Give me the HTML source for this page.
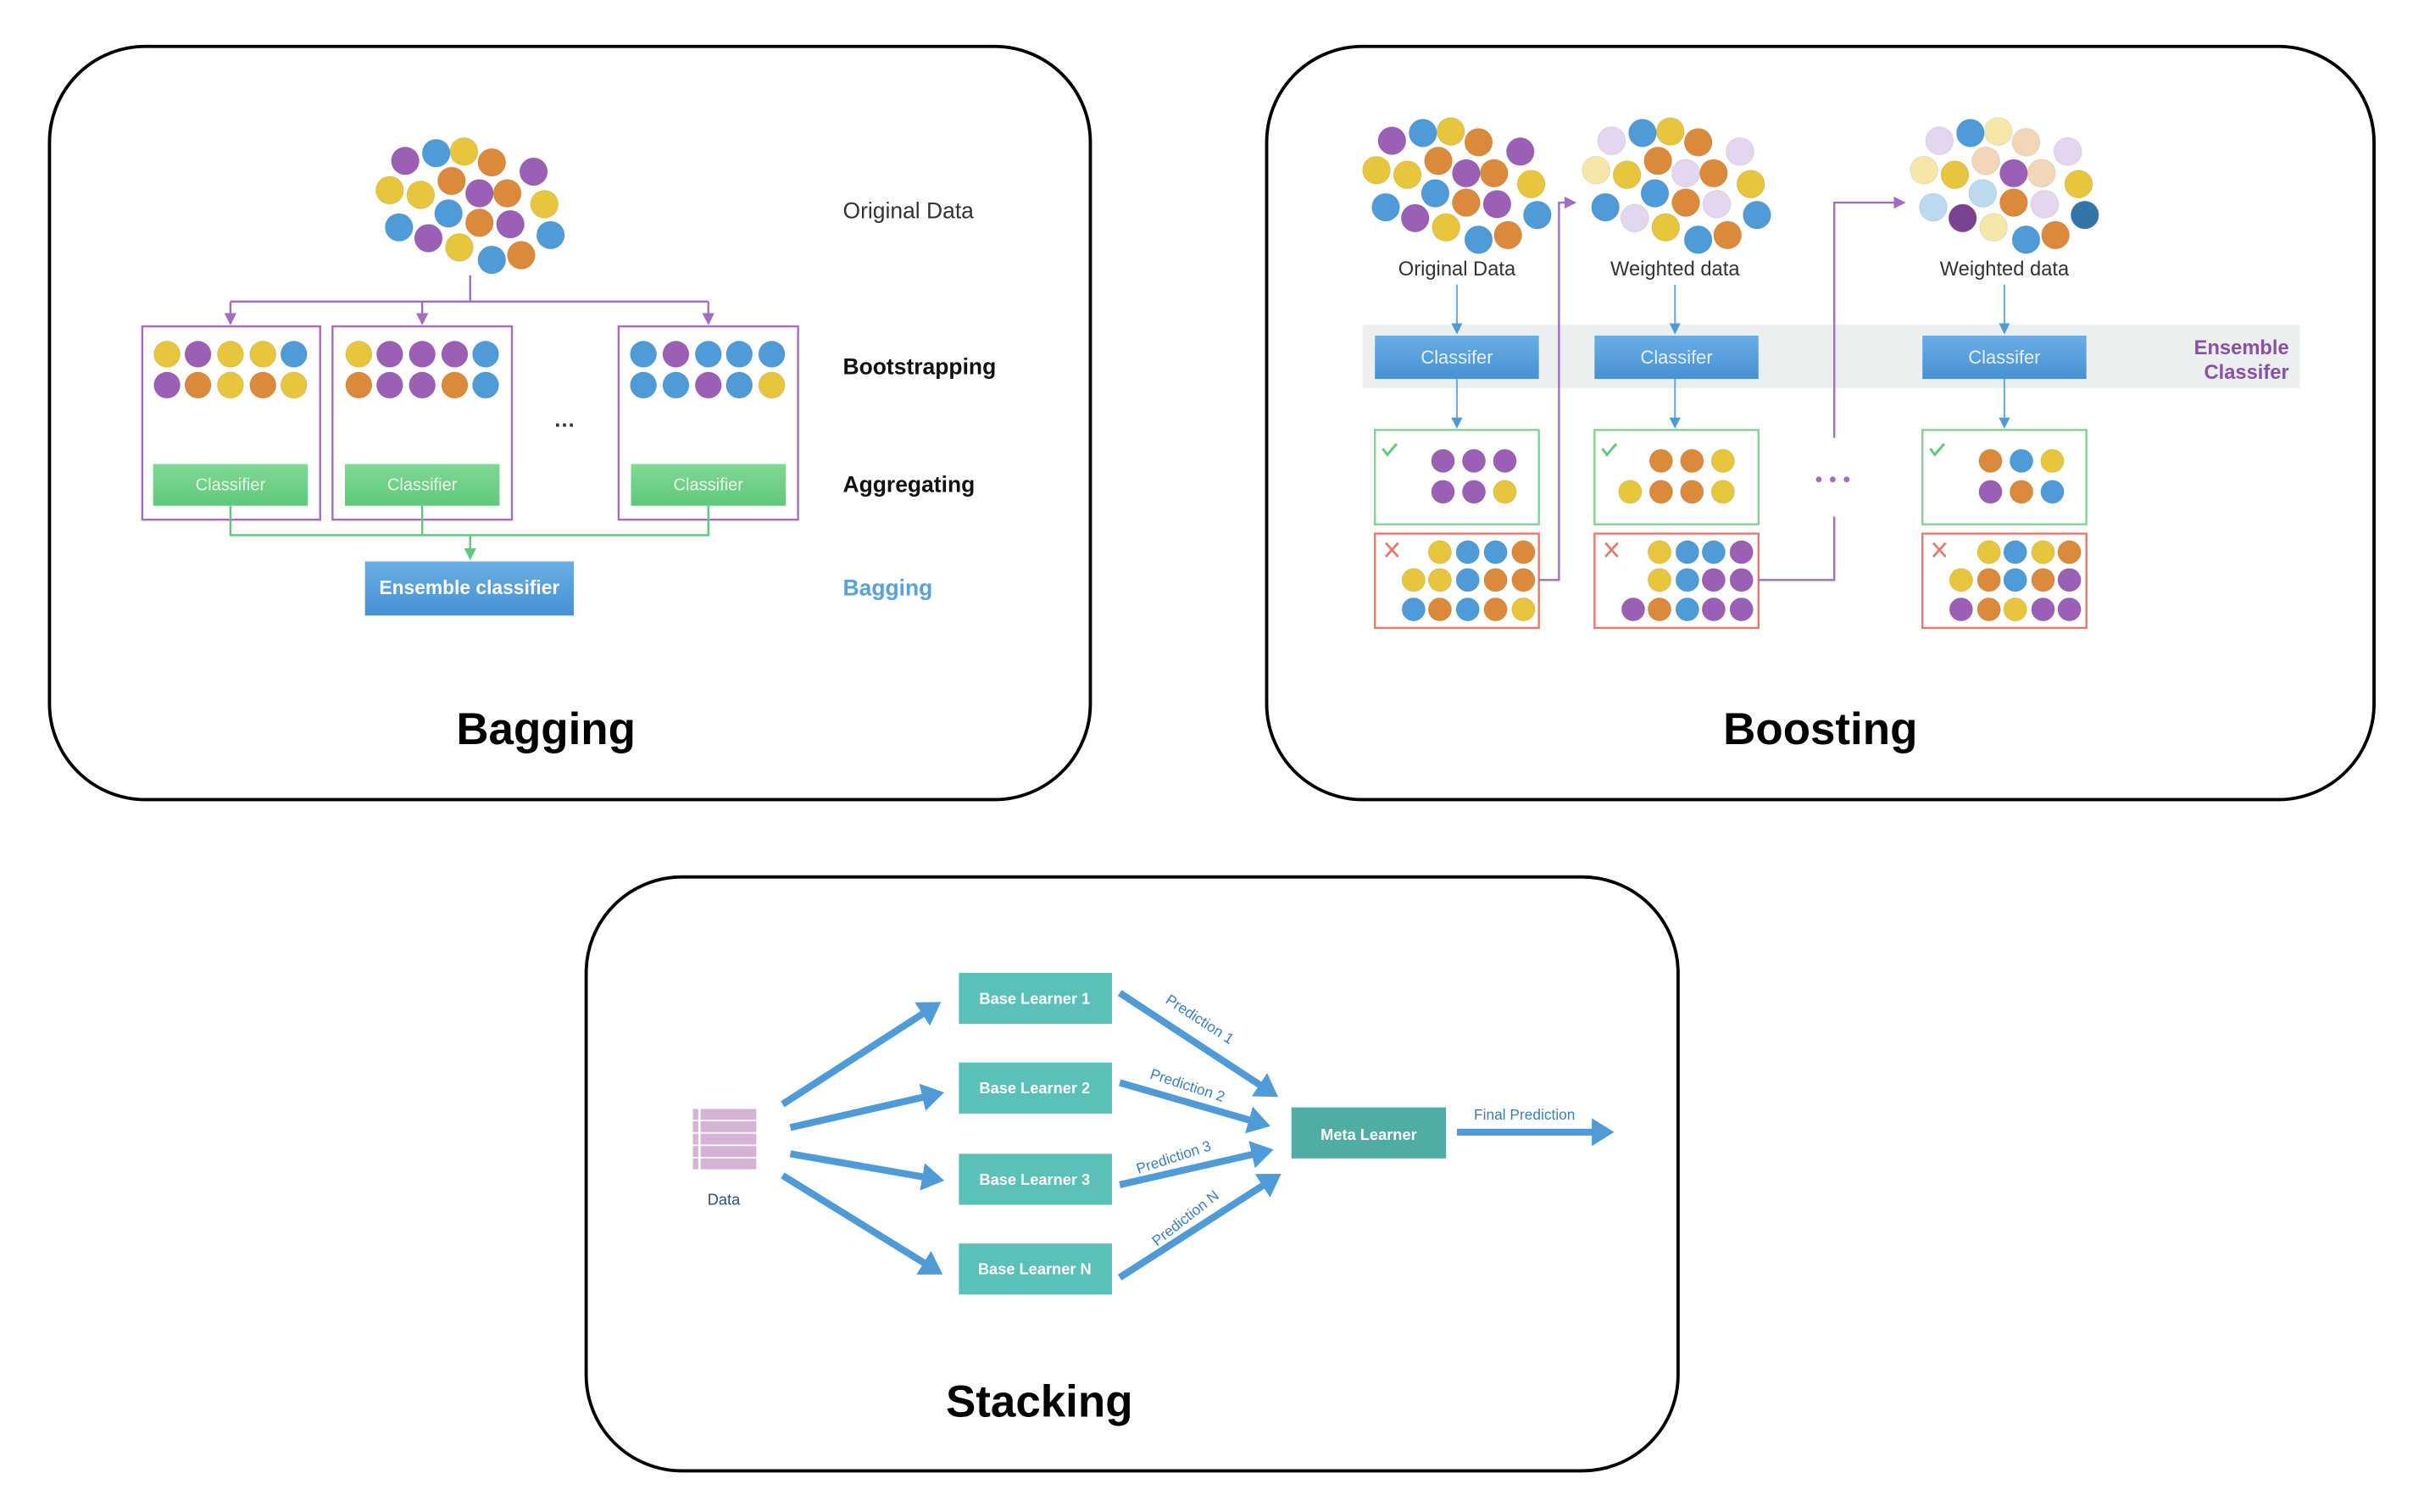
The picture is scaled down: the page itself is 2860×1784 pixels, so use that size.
<!DOCTYPE html>
<html><head><meta charset="utf-8"><style>
html,body{margin:0;padding:0;background:#fff}
svg{display:block}
text{font-family:"Liberation Sans",sans-serif}
.p{fill:#9b5fb5}.b{fill:#4e9bd7}.y{fill:#e7c53c}.o{fill:#da8a3a}
.lp{fill:#e4d6ee}.ly{fill:#f5e7a8}.lo{fill:#f3d6b8}.lb{fill:#bcd9f0}.dp{fill:#7a4391}.db{fill:#3574a8}
circle{stroke:rgba(0,0,0,0.08);stroke-width:0.6}
</style></head><body>
<svg width="2860" height="1784" viewBox="0 0 1567.3 977.6" preserveAspectRatio="none" xmlns="http://www.w3.org/2000/svg">
<defs>
<linearGradient id="gb" x1="0" y1="0" x2="0" y2="1"><stop offset="0" stop-color="#6aaee4"/><stop offset="1" stop-color="#4690d4"/></linearGradient>
<linearGradient id="gg" x1="0" y1="0" x2="0" y2="1"><stop offset="0" stop-color="#80d896"/><stop offset="1" stop-color="#5fc97a"/></linearGradient>
<marker id="ap" markerWidth="6" markerHeight="6" refX="5" refY="3" orient="auto"><path d="M0,0 L6,3 L0,6z" fill="#a46bc4"/></marker>
<marker id="ab" markerWidth="6" markerHeight="6" refX="5" refY="3" orient="auto"><path d="M0,0 L6,3 L0,6z" fill="#4e9bd7"/></marker>
<marker id="ag" markerWidth="6" markerHeight="6" refX="5" refY="3" orient="auto"><path d="M0,0 L6,3 L0,6z" fill="#5fc97a"/></marker>
<marker id="bs" markerWidth="4" markerHeight="4" refX="1.5" refY="2" orient="auto" markerUnits="strokeWidth"><path d="M0,0 L3.2,2 L0,4z" fill="#4e9bd7"/></marker>
</defs>

<!-- panels -->
<rect x="32" y="30" width="673" height="487" rx="62" fill="none" stroke="#000" stroke-width="2.1"/>
<rect x="819" y="30" width="716" height="487" rx="62" fill="none" stroke="#000" stroke-width="2.1"/>
<rect x="379" y="567" width="706" height="384" rx="62" fill="none" stroke="#000" stroke-width="2.1"/>

<!-- BAGGING -->
<g>
<circle cx="262" cy="104" r="9" class="p"/><circle cx="282" cy="99" r="9" class="b"/><circle cx="300" cy="98" r="9" class="y"/><circle cx="318" cy="105" r="9" class="o"/><circle cx="345" cy="111" r="9" class="p"/>
<circle cx="252" cy="123" r="9" class="y"/><circle cx="272" cy="126" r="9" class="y"/><circle cx="292" cy="117" r="9" class="o"/><circle cx="310" cy="125" r="9" class="p"/><circle cx="328" cy="125" r="9" class="o"/><circle cx="352" cy="132" r="9" class="y"/>
<circle cx="290" cy="138" r="9" class="b"/><circle cx="310" cy="144" r="9" class="o"/><circle cx="330" cy="145" r="9" class="p"/><circle cx="258" cy="147" r="9" class="b"/><circle cx="277" cy="154" r="9" class="p"/><circle cx="297" cy="160" r="9" class="y"/><circle cx="318" cy="168" r="9" class="b"/><circle cx="337" cy="165" r="9" class="o"/><circle cx="356" cy="152" r="9" class="b"/>
</g>
<g fill="none" stroke="#a46bc4" stroke-width="1.3">
<path d="M304 178 V195 M149 195 H458"/>
<path d="M149 195 V209" marker-end="url(#ap)"/><path d="M273 195 V209" marker-end="url(#ap)"/><path d="M458 195 V209" marker-end="url(#ap)"/>
<rect x="92" y="211" width="115" height="125"/><rect x="215" y="211" width="116" height="125"/><rect x="400" y="211" width="116" height="125"/>
</g>
<g>
<circle cx="108" cy="229" r="8.5" class="y"/><circle cx="128" cy="229" r="8.5" class="p"/><circle cx="149" cy="229" r="8.5" class="y"/><circle cx="170" cy="229" r="8.5" class="y"/><circle cx="190" cy="229" r="8.5" class="b"/>
<circle cx="108" cy="249" r="8.5" class="p"/><circle cx="128" cy="249" r="8.5" class="o"/><circle cx="149" cy="249" r="8.5" class="y"/><circle cx="170" cy="249" r="8.5" class="o"/><circle cx="190" cy="249" r="8.5" class="y"/>
<circle cx="232" cy="229" r="8.5" class="y"/><circle cx="252" cy="229" r="8.5" class="p"/><circle cx="273" cy="229" r="8.5" class="p"/><circle cx="294" cy="229" r="8.5" class="p"/><circle cx="314" cy="229" r="8.5" class="b"/>
<circle cx="232" cy="249" r="8.5" class="o"/><circle cx="252" cy="249" r="8.5" class="p"/><circle cx="273" cy="249" r="8.5" class="p"/><circle cx="294" cy="249" r="8.5" class="o"/><circle cx="314" cy="249" r="8.5" class="b"/>
<circle cx="416" cy="229" r="8.5" class="b"/><circle cx="437" cy="229" r="8.5" class="p"/><circle cx="458" cy="229" r="8.5" class="b"/><circle cx="478" cy="229" r="8.5" class="b"/><circle cx="499" cy="229" r="8.5" class="b"/>
<circle cx="416" cy="249" r="8.5" class="b"/><circle cx="437" cy="249" r="8.5" class="b"/><circle cx="458" cy="249" r="8.5" class="p"/><circle cx="478" cy="249" r="8.5" class="b"/><circle cx="499" cy="249" r="8.5" class="y"/>
</g>
<text x="365" y="276" font-size="14" text-anchor="middle" fill="#333" font-weight="bold">…</text>
<rect x="99" y="300" width="100" height="27" fill="url(#gg)"/><rect x="223" y="300" width="100" height="27" fill="url(#gg)"/><rect x="408" y="300" width="100" height="27" fill="url(#gg)"/>
<g font-size="11" fill="#eaf8ec" text-anchor="middle"><text x="149" y="317">Classifier</text><text x="273" y="317">Classifier</text><text x="458" y="317">Classifier</text></g>
<g fill="none" stroke="#5fc97a" stroke-width="1.3">
<path d="M149 327 V346 H458 V327 M273 327 V346"/><path d="M304 346 V361" marker-end="url(#ag)"/>
</g>
<rect x="236" y="363" width="135" height="35" fill="url(#gb)"/>
<text x="303.5" y="384" font-size="12.5" font-weight="bold" fill="#fff" text-anchor="middle">Ensemble classifier</text>
<text x="545" y="141" font-size="14.5" fill="#333">Original Data</text>
<text x="545" y="242" font-size="14.5" font-weight="bold" fill="#111">Bootstrapping</text>
<text x="545" y="318" font-size="14.5" font-weight="bold" fill="#111">Aggregating</text>
<text x="545" y="385" font-size="14.5" font-weight="bold" fill="#5aa1dc">Bagging</text>
<text x="353" y="481" font-size="29" font-weight="bold" fill="#000" text-anchor="middle">Bagging</text>

<!-- BOOSTING -->
<rect x="881" y="210" width="606" height="41" fill="#eceff0"/>
<g transform="translate(638,-13)">
<circle cx="262" cy="104" r="9" class="p"/><circle cx="282" cy="99" r="9" class="b"/><circle cx="300" cy="98" r="9" class="y"/><circle cx="318" cy="105" r="9" class="o"/><circle cx="345" cy="111" r="9" class="p"/>
<circle cx="252" cy="123" r="9" class="y"/><circle cx="272" cy="126" r="9" class="y"/><circle cx="292" cy="117" r="9" class="o"/><circle cx="310" cy="125" r="9" class="p"/><circle cx="328" cy="125" r="9" class="o"/><circle cx="352" cy="132" r="9" class="y"/>
<circle cx="290" cy="138" r="9" class="b"/><circle cx="310" cy="144" r="9" class="o"/><circle cx="330" cy="145" r="9" class="p"/><circle cx="258" cy="147" r="9" class="b"/><circle cx="277" cy="154" r="9" class="p"/><circle cx="297" cy="160" r="9" class="y"/><circle cx="318" cy="168" r="9" class="b"/><circle cx="337" cy="165" r="9" class="o"/><circle cx="356" cy="152" r="9" class="b"/>
</g>
<g transform="translate(780,-13)">
<circle cx="262" cy="104" r="9" class="lp"/><circle cx="282" cy="99" r="9" class="b"/><circle cx="300" cy="98" r="9" class="y"/><circle cx="318" cy="105" r="9" class="o"/><circle cx="345" cy="111" r="9" class="lp"/>
<circle cx="252" cy="123" r="9" class="ly"/><circle cx="272" cy="126" r="9" class="y"/><circle cx="292" cy="117" r="9" class="o"/><circle cx="310" cy="125" r="9" class="lp"/><circle cx="328" cy="125" r="9" class="o"/><circle cx="352" cy="132" r="9" class="y"/>
<circle cx="290" cy="138" r="9" class="b"/><circle cx="310" cy="144" r="9" class="o"/><circle cx="330" cy="145" r="9" class="lp"/><circle cx="258" cy="147" r="9" class="b"/><circle cx="277" cy="154" r="9" class="lp"/><circle cx="297" cy="160" r="9" class="y"/><circle cx="318" cy="168" r="9" class="b"/><circle cx="337" cy="165" r="9" class="o"/><circle cx="356" cy="152" r="9" class="b"/>
</g>
<g transform="translate(992,-13)">
<circle cx="262" cy="104" r="9" class="lp"/><circle cx="282" cy="99" r="9" class="b"/><circle cx="300" cy="98" r="9" class="ly"/><circle cx="318" cy="105" r="9" class="lo"/><circle cx="345" cy="111" r="9" class="lp"/>
<circle cx="252" cy="123" r="9" class="ly"/><circle cx="272" cy="126" r="9" class="y"/><circle cx="292" cy="117" r="9" class="lo"/><circle cx="310" cy="125" r="9" class="p"/><circle cx="328" cy="125" r="9" class="lo"/><circle cx="352" cy="132" r="9" class="y"/>
<circle cx="290" cy="138" r="9" class="lb"/><circle cx="310" cy="144" r="9" class="o"/><circle cx="330" cy="145" r="9" class="lp"/><circle cx="258" cy="147" r="9" class="lb"/><circle cx="277" cy="154" r="9" class="dp"/><circle cx="297" cy="160" r="9" class="ly"/><circle cx="318" cy="168" r="9" class="b"/><circle cx="337" cy="165" r="9" class="o"/><circle cx="356" cy="152" r="9" class="db"/>
</g>
<g font-size="13" fill="#333" text-anchor="middle"><text x="942" y="178">Original Data</text><text x="1083" y="178">Weighted data</text><text x="1296" y="178">Weighted data</text></g>
<g fill="none" stroke="#6aaee4" stroke-width="1.2">
<path d="M942 184 V215" marker-end="url(#ab)"/><path d="M1083 184 V215" marker-end="url(#ab)"/><path d="M1296 184 V215" marker-end="url(#ab)"/>
<path d="M942 245 V276" marker-end="url(#ab)"/><path d="M1083 245 V276" marker-end="url(#ab)"/><path d="M1296 245 V276" marker-end="url(#ab)"/>
</g>
<rect x="889" y="217" width="106" height="28" fill="url(#gb)"/><rect x="1031" y="217" width="106" height="28" fill="url(#gb)"/><rect x="1243" y="217" width="106" height="28" fill="url(#gb)"/>
<g font-size="12" fill="#e6f1fb" text-anchor="middle"><text x="942" y="235">Classifer</text><text x="1084" y="235">Classifer</text><text x="1296" y="235">Classifer</text></g>
<text x="1480" y="229" font-size="13" font-weight="bold" fill="#8a4fa6" text-anchor="end">Ensemble</text>
<text x="1480" y="245" font-size="13" font-weight="bold" fill="#8a4fa6" text-anchor="end">Classifer</text>
<g fill="none" stroke-width="1.3">
<rect x="889" y="278" width="106" height="61" stroke="#7ed491"/><rect x="1031" y="278" width="106" height="61" stroke="#7ed491"/><rect x="1243" y="278" width="106" height="61" stroke="#7ed491"/>
<rect x="889" y="345" width="106" height="61" stroke="#e9796b"/><rect x="1031" y="345" width="106" height="61" stroke="#e9796b"/><rect x="1243" y="345" width="106" height="61" stroke="#e9796b"/>
<path d="M995 375 H1008 V131 H1018" stroke="#a46bc4" marker-end="url(#ap)"/>
<path d="M1137 375 H1186 V334 M1186 283 V131 H1231" stroke="#a46bc4" marker-end="url(#ap)"/>
</g>
<g fill="none" stroke="#5fc97a" stroke-width="1.6"><path d="M894 290 l3 4 l6 -7"/><path d="M1036 290 l3 4 l6 -7"/><path d="M1248 290 l3 4 l6 -7"/></g>
<g fill="none" stroke="#e9796b" stroke-width="1.5"><path d="M896 351 l8 9 M904 351 l-8 9"/><path d="M1038 351 l8 9 M1046 351 l-8 9"/><path d="M1250 351 l8 9 M1258 351 l-8 9"/></g>
<g>
<circle cx="933" cy="298" r="7.5" class="p"/><circle cx="953" cy="298" r="7.5" class="p"/><circle cx="973" cy="298" r="7.5" class="p"/>
<circle cx="933" cy="318" r="7.5" class="p"/><circle cx="953" cy="318" r="7.5" class="p"/><circle cx="973" cy="318" r="7.5" class="y"/>
<circle cx="1074" cy="298" r="7.5" class="o"/><circle cx="1094" cy="298" r="7.5" class="o"/><circle cx="1114" cy="298" r="7.5" class="y"/>
<circle cx="1054" cy="318" r="7.5" class="y"/><circle cx="1074" cy="318" r="7.5" class="o"/><circle cx="1094" cy="318" r="7.5" class="o"/><circle cx="1114" cy="318" r="7.5" class="y"/>
<circle cx="1287" cy="298" r="7.5" class="o"/><circle cx="1307" cy="298" r="7.5" class="b"/><circle cx="1327" cy="298" r="7.5" class="y"/>
<circle cx="1287" cy="318" r="7.5" class="p"/><circle cx="1307" cy="318" r="7.5" class="o"/><circle cx="1327" cy="318" r="7.5" class="b"/>

<circle cx="931" cy="357" r="7.5" class="y"/><circle cx="949" cy="357" r="7.5" class="b"/><circle cx="967" cy="357" r="7.5" class="b"/><circle cx="985" cy="357" r="7.5" class="o"/>
<circle cx="914" cy="375" r="7.5" class="y"/><circle cx="931" cy="375" r="7.5" class="y"/><circle cx="949" cy="375" r="7.5" class="b"/><circle cx="967" cy="375" r="7.5" class="o"/><circle cx="985" cy="375" r="7.5" class="o"/>
<circle cx="914" cy="394" r="7.5" class="b"/><circle cx="931" cy="394" r="7.5" class="o"/><circle cx="949" cy="394" r="7.5" class="b"/><circle cx="967" cy="394" r="7.5" class="o"/><circle cx="985" cy="394" r="7.5" class="y"/>

<circle cx="1073" cy="357" r="7.5" class="y"/><circle cx="1091" cy="357" r="7.5" class="b"/><circle cx="1108" cy="357" r="7.5" class="b"/><circle cx="1126" cy="357" r="7.5" class="p"/>
<circle cx="1073" cy="375" r="7.5" class="y"/><circle cx="1091" cy="375" r="7.5" class="b"/><circle cx="1108" cy="375" r="7.5" class="p"/><circle cx="1126" cy="375" r="7.5" class="p"/>
<circle cx="1056" cy="394" r="7.5" class="p"/><circle cx="1073" cy="394" r="7.5" class="o"/><circle cx="1091" cy="394" r="7.5" class="b"/><circle cx="1108" cy="394" r="7.5" class="p"/><circle cx="1126" cy="394" r="7.5" class="p"/>

<circle cx="1286" cy="357" r="7.5" class="y"/><circle cx="1303" cy="357" r="7.5" class="b"/><circle cx="1321" cy="357" r="7.5" class="y"/><circle cx="1338" cy="357" r="7.5" class="o"/>
<circle cx="1268" cy="375" r="7.5" class="y"/><circle cx="1286" cy="375" r="7.5" class="o"/><circle cx="1303" cy="375" r="7.5" class="b"/><circle cx="1321" cy="375" r="7.5" class="o"/><circle cx="1338" cy="375" r="7.5" class="p"/>
<circle cx="1268" cy="394" r="7.5" class="p"/><circle cx="1286" cy="394" r="7.5" class="o"/><circle cx="1303" cy="394" r="7.5" class="y"/><circle cx="1321" cy="394" r="7.5" class="p"/><circle cx="1338" cy="394" r="7.5" class="p"/>
</g>
<g fill="#a46bc4"><circle cx="1176" cy="310" r="1.8" stroke="none"/><circle cx="1185" cy="310" r="1.8" stroke="none"/><circle cx="1194" cy="310" r="1.8" stroke="none"/></g>
<text x="1177" y="481" font-size="29" font-weight="bold" fill="#000" text-anchor="middle">Boosting</text>

<!-- STACKING -->
<g fill="#d4b3d6">
<rect x="448" y="717" width="3.5" height="7"/><rect x="453" y="717" width="36" height="7"/>
<rect x="448" y="725" width="3.5" height="7"/><rect x="453" y="725" width="36" height="7"/>
<rect x="448" y="733" width="3.5" height="7"/><rect x="453" y="733" width="36" height="7"/>
<rect x="448" y="741" width="3.5" height="7"/><rect x="453" y="741" width="36" height="7"/>
<rect x="448" y="749" width="3.5" height="7"/><rect x="453" y="749" width="36" height="7"/>
</g>
<text x="468" y="779" font-size="10" fill="#2d4f73" text-anchor="middle">Data</text>
<g fill="#5bc0b8">
<rect x="620" y="629" width="99" height="33"/><rect x="620" y="687" width="99" height="33"/><rect x="620" y="746" width="99" height="33"/><rect x="620" y="804" width="99" height="33"/>
</g>
<rect x="835" y="716" width="100" height="33" fill="#50ada3"/>
<g font-size="10" fill="#fff" text-anchor="middle" font-weight="bold">
<text x="669" y="649">Base Learner 1</text><text x="669" y="707">Base Learner 2</text><text x="669" y="766">Base Learner 3</text><text x="669" y="824">Base Learner N</text><text x="885" y="737">Meta Learner</text>
</g>
<g fill="none" stroke="#4e9bd7" stroke-width="4.5">
<path d="M506 714 L602 652" marker-end="url(#bs)"/>
<path d="M511 729 L603 708" marker-end="url(#bs)"/>
<path d="M511 746 L603 762" marker-end="url(#bs)"/>
<path d="M506 760 L603 820" marker-end="url(#bs)"/>
<path d="M724 642 L820 705" marker-end="url(#bs)"/>
<path d="M724 700 L814 726" marker-end="url(#bs)"/>
<path d="M724 766 L816 745" marker-end="url(#bs)"/>
<path d="M724 826 L822 763" marker-end="url(#bs)"/>
<path d="M942 732 L1036 732" marker-end="url(#bs)"/>
</g>
<g font-size="9.5" fill="#3d7fb8">
<text transform="translate(753,648) rotate(33)">Prediction 1</text>
<text transform="translate(743,697) rotate(18)">Prediction 2</text>
<text transform="translate(736,759) rotate(-18)">Prediction 3</text>
<text transform="translate(748,806) rotate(-38)">Prediction N</text>
<text x="953" y="724">Final Prediction</text>
</g>
<text x="672" y="916" font-size="29" font-weight="bold" fill="#000" text-anchor="middle">Stacking</text>
</svg>
</body></html>
